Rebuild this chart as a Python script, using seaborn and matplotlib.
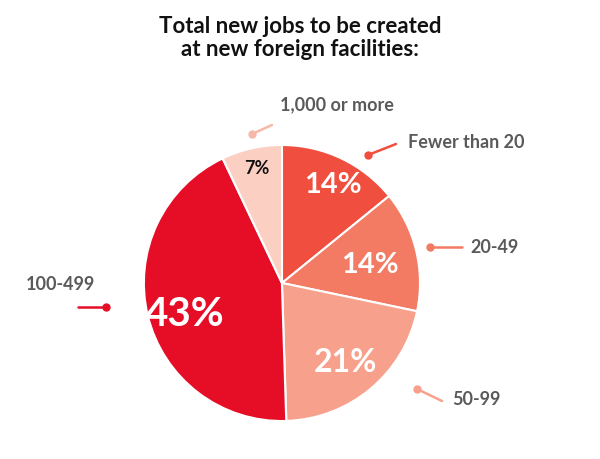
import matplotlib
matplotlib.use("Agg")
import matplotlib.pyplot as plt
import seaborn as sns

sns.set_theme(style="white")
plt.rcParams['font.family'] = ['Lato', 'DejaVu Sans']

categories = ["Fewer than 20", "20-49", "50-99", "100-499", "1,000 or more"]
values = [14, 14, 21, 43, 7]
colors = ["#f04e3e", "#f37a63", "#f7a18c", "#e60e27", "#fbd0c2"]
explode = [0, 0, 0, 0.12, 0.08]

H = 460
fig = plt.figure(figsize=(6, 4.6), dpi=100)
ax = fig.add_axes([0, 0, 1, 1])

cx, cy, r = 282, H - 284, 138
wedges, _ = ax.pie(values, colors=colors, startangle=90, counterclock=False,
                   explode=explode, center=(cx, cy), radius=r,
                   wedgeprops=dict(edgecolor="white", linewidth=1.5), frame=True)
ax.set_xlim(0, 600)
ax.set_ylim(0, H)
ax.set_aspect("equal")
ax.axis("off")

# percentage labels
pct_pos = [(333, 185), (370, 265), (345, 363), (185, 315), (257, 168)]
pct_size = [21, 21, 23, 29, 13]
pct_col = ["white", "white", "white", "white", "#111111"]
for v, (x, y), s, c in zip(values, pct_pos, pct_size, pct_col):
    ax.text(x, H - y, f"{v}%", ha="center", va="center", fontsize=s,
            fontweight="bold", color=c)

# external labels with leader lines
label_cfg = [
    ("Fewer than 20", (368, 156), (396, 145), (408, 143), "left"),
    ("20-49", (430, 248), (462, 248), (470, 248), "left"),
    ("50-99", (417, 390), (442, 402), (452, 400), "left"),
    ("100-499", (106, 308), (78, 308), (95, 285), "right"),
    ("1,000 or more", (252, 135), (272, 126), (280, 105), "left"),
]
for (name, dot, end, tpos, ha), col in zip(label_cfg, colors):
    lc = col if name != "1,000 or more" else "#f7b8a8"
    ax.plot([dot[0], end[0]], [H - dot[1], H - end[1]], color=lc, lw=1.8)
    ax.plot(dot[0], H - dot[1], "o", color=lc, ms=5)
    ax.text(tpos[0], H - tpos[1], name, ha=ha, va="center", fontsize=13,
            fontweight="bold", color="#5a5a5a")

ax.text(300, H - 38, "Total new jobs to be created\nat new foreign facilities:",
        ha="center", va="center", fontsize=16, fontweight="bold",
        color="#111111", linespacing=1.1)

fig.savefig("out.png", dpi=100)
